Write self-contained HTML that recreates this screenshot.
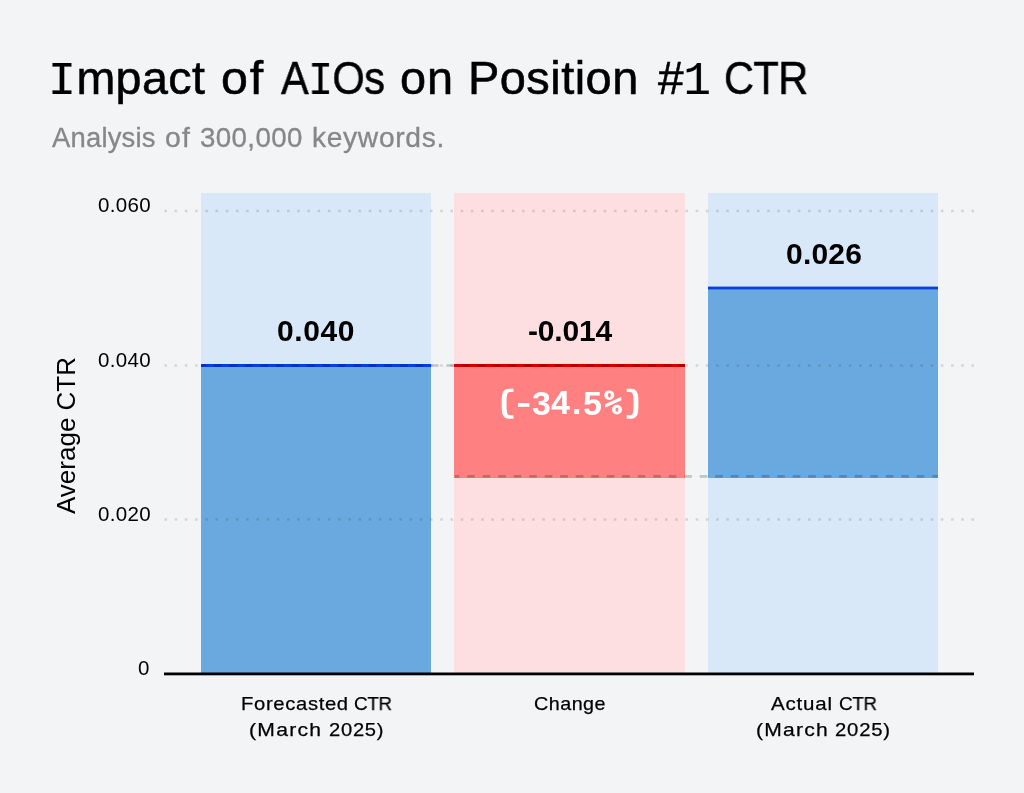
<!DOCTYPE html>
<html>
<head>
<meta charset="utf-8">
<style>
  html, body { margin: 0; padding: 0; }
  body { width: 1024px; height: 793px; background: #f3f4f6; position: relative; overflow: hidden;
         font-family: "Liberation Sans", sans-serif; color: #000; }
  .t { position: absolute; white-space: nowrap; line-height: 1; will-change: transform; }
  svg { position: absolute; left: 0; top: 0; }
  .ti { -webkit-text-stroke: 0.55px #000; }
  .su { -webkit-text-stroke: 0.3px #878787; }
  .xl { -webkit-text-stroke: 0.25px #000; }
</style>
</head>
<body>
<svg width="1024" height="793" viewBox="0 0 1024 793">
  <!-- bar backgrounds -->
  <rect x="201" y="193" width="230" height="480" fill="#d8e8f8"/>
  <rect x="454" y="193" width="231" height="480" fill="#fddfe1"/>
  <rect x="708" y="193" width="230" height="480" fill="#d8e8f8"/>
  <!-- bar fills -->
  <rect x="201" y="365" width="230" height="308" fill="#6aa9e0"/>
  <rect x="454" y="365" width="231" height="113" fill="#ff8080"/>
  <rect x="708" y="288" width="230" height="190" fill="#6aa9e0"/>
  <!-- gridlines dotted -->
  <g stroke="rgba(0,0,0,0.13)" stroke-width="2.5" stroke-dasharray="2.6 7.616">
    <line x1="164.4" y1="211" x2="975" y2="211"/>
    <line x1="164.4" y1="365.5" x2="975" y2="365.5"/>
    <line x1="164.4" y1="519.5" x2="975" y2="519.5"/>
  </g>
  <!-- top lines -->
  <rect x="201" y="364" width="230" height="3" fill="#0a3fd6"/>
  <rect x="454" y="364" width="231" height="3" fill="#d40000"/>
  <rect x="708" y="286.6" width="230" height="2.8" fill="#0a3fd6"/>
  <!-- dashed connector lines -->
  <defs>
    <clipPath id="c1"><rect x="201" y="300" width="484" height="100"/></clipPath>
    <clipPath id="c2"><rect x="454.6" y="440" width="483.4" height="80"/></clipPath>
  </defs>
  <g stroke="rgba(0,0,0,0.2)" stroke-width="2.6" stroke-dasharray="7.7 7.8">
    <line x1="198.4" y1="365.5" x2="685" y2="365.5" clip-path="url(#c1)"/>
    <line x1="451.7" y1="476.4" x2="938" y2="476.4" clip-path="url(#c2)"/>
  </g>
  <!-- axis -->
  <rect x="164" y="672.5" width="810" height="2.8" fill="#000"/>
</svg>


<div class="t" style="left:98px;top:195px;font-size:20.5px;letter-spacing:0.35px;">0.060</div>
<div class="t" style="left:98px;top:350px;font-size:20.5px;letter-spacing:0.35px;">0.040</div>
<div class="t" style="left:98px;top:504px;font-size:20.5px;letter-spacing:0.35px;">0.020</div>
<div class="t" style="left:138px;top:658px;font-size:20.5px;letter-spacing:0.35px;">0</div>

<div class="t" style="left:53px;top:514px;font-size:26px;transform-origin:0 0;transform:rotate(-90deg);">Average CTR</div>

<div class="t" style="left:277px;top:316px;font-size:30px;font-weight:700;letter-spacing:0.6px;">0.040</div>
<div class="t" style="left:528px;top:316px;font-size:30px;font-weight:700;letter-spacing:-0.2px;">-0.014</div>
<div class="t" style="left:785.5px;top:239px;font-size:30px;font-weight:700;letter-spacing:0.2px;">0.026</div>
<svg width="1024" height="793" viewBox="0 0 1024 793" style="position:absolute;left:0;top:0">
  <g fill="#fff">
    <path d="M 513.4 388.7 L 509 388.7 C 503.5 388.7 501.7 393 501.7 400 L 501.7 407.5 C 501.7 414.5 503.5 418.8 509 418.8 L 513.4 418.8 L 513.4 415.3 L 510 415.3 C 507.5 415.3 506.6 412.5 506.6 407.5 L 506.6 400 C 506.6 395 507.5 392 510 392 L 513.4 392 Z"/>
    <path d="M 626.70 388.7 L 631.10 388.7 C 636.60 388.7 638.40 393 638.40 400 L 638.40 407.5 C 638.40 414.5 636.60 418.8 631.10 418.8 L 626.70 418.8 L 626.70 415.3 L 630.10 415.3 C 632.60 415.3 633.50 412.5 633.50 407.5 L 633.50 400 C 633.50 395 632.60 392 630.10 392 L 626.70 392 Z"/>
    <path fill-rule="evenodd" d="M 604.2 395.15 A 5.05 4.75 0 1 0 614.3 395.15 A 5.05 4.75 0 1 0 604.2 395.15 Z M 607.9 395.3 A 1.5 2.4 0 1 0 610.9 395.3 A 1.5 2.4 0 1 0 607.9 395.3 Z"/>
    <path fill-rule="evenodd" d="M 611.9 409.65 A 5.05 4.85 0 1 0 622 409.65 A 5.05 4.85 0 1 0 611.9 409.65 Z M 615.5 409.6 A 1.45 2.2 0 1 0 618.4 409.6 A 1.45 2.2 0 1 0 615.5 409.6 Z"/>
    <path d="M 605 404.2 L 621.2 396.9 L 621.4 400.3 L 605 407.8 Z"/>
    <rect x="518" y="403" width="11.4" height="3.8"/>
  </g>
</svg>
<div class="t" style="left:532.20px;top:385.60px;font-size:34px;font-weight:700;color:#fff;">3</div>
<div class="t" style="left:551.20px;top:384.90px;font-size:34px;font-weight:700;color:#fff;">4</div>
<div class="t" style="left:572.25px;top:384.90px;font-size:34px;font-weight:700;color:#fff;">.</div>
<div class="t" style="left:582.80px;top:385.60px;font-size:34px;font-weight:700;color:#fff;">5</div>

<!-- WORDS -->
<div class="t ti" style="left:48.45px;top:54.60px;font-size:46px;letter-spacing:0.395px;transform:scaleX(1.0134);transform-origin:0 0;"><span style="font-family:Liberation Mono;-webkit-text-stroke:0.2px #000">I</span>mpact</div>
<div class="t ti" style="left:220.90px;top:54.60px;font-size:46px;letter-spacing:1.785px;transform:scaleX(1.0507);transform-origin:0 0;">of</div>
<div class="t ti" style="left:280.50px;top:54.60px;font-size:46px;letter-spacing:-0.600px;transform:scaleX(0.9019);transform-origin:0 0;">A<span style="font-family:Liberation Mono;-webkit-text-stroke:0.2px #000">I</span>Os</div>
<div class="t ti" style="left:399.96px;top:54.60px;font-size:46px;letter-spacing:0.859px;transform:scaleX(1.0190);transform-origin:0 0;">on</div>
<div class="t ti" style="left:468.17px;top:54.60px;font-size:46px;letter-spacing:0.455px;transform:scaleX(1.0207);transform-origin:0 0;">Position</div>
<div class="t ti" style="left:658.25px;top:54.60px;font-size:46px;letter-spacing:-0.125px;transform:scaleX(0.9975);transform-origin:0 0;">#<span style="font-family:Liberation Mono;-webkit-text-stroke:0.2px #000">1</span></div>
<div class="t ti" style="left:723.94px;top:54.60px;font-size:46px;letter-spacing:-0.600px;transform:scaleX(0.9037);transform-origin:0 0;">CTR</div>
<div class="t su" style="left:52.00px;top:124.70px;font-size:27px;letter-spacing:0.211px;transform:scaleX(1.0150);transform-origin:0 0;color:#878787;">Analysis</div>
<div class="t su" style="left:164.70px;top:124.70px;font-size:27px;letter-spacing:1.070px;transform:scaleX(1.0511);transform-origin:0 0;color:#878787;">of</div>
<div class="t su" style="left:200.23px;top:124.70px;font-size:27px;letter-spacing:0.386px;transform:scaleX(1.0247);transform-origin:0 0;color:#878787;">300,000</div>
<div class="t su" style="left:311.66px;top:124.70px;font-size:27px;letter-spacing:0.628px;transform:scaleX(1.0449);transform-origin:0 0;color:#878787;">keywords.</div>
<div class="t xl" style="left:240.54px;top:694.30px;font-size:19px;letter-spacing:0.621px;transform:scaleX(1.0640);transform-origin:0 0;">Forecasted</div>
<div class="t xl" style="left:354.31px;top:694.30px;font-size:19px;letter-spacing:-0.253px;transform:scaleX(0.9865);transform-origin:0 0;">CTR</div>
<div class="t xl" style="left:249.29px;top:719.60px;font-size:19px;letter-spacing:1.143px;transform:scaleX(1.1114);transform-origin:0 0;">(March</div>
<div class="t xl" style="left:328.64px;top:719.60px;font-size:19px;letter-spacing:0.683px;transform:scaleX(1.0617);transform-origin:0 0;">2025)</div>
<div class="t xl" style="left:533.56px;top:693.90px;font-size:19px;letter-spacing:0.472px;transform:scaleX(1.0377);transform-origin:0 0;">Change</div>
<div class="t xl" style="left:770.50px;top:694.30px;font-size:19px;letter-spacing:0.751px;transform:scaleX(1.0779);transform-origin:0 0;">Actual</div>
<div class="t xl" style="left:838.51px;top:694.30px;font-size:19px;letter-spacing:-0.253px;transform:scaleX(0.9865);transform-origin:0 0;">CTR</div>
<div class="t xl" style="left:756.39px;top:719.60px;font-size:19px;letter-spacing:1.126px;transform:scaleX(1.1096);transform-origin:0 0;">(March</div>
<div class="t xl" style="left:835.03px;top:719.60px;font-size:19px;letter-spacing:0.749px;transform:scaleX(1.0681);transform-origin:0 0;">2025)</div>
<!-- /WORDS -->
</body>
</html>
